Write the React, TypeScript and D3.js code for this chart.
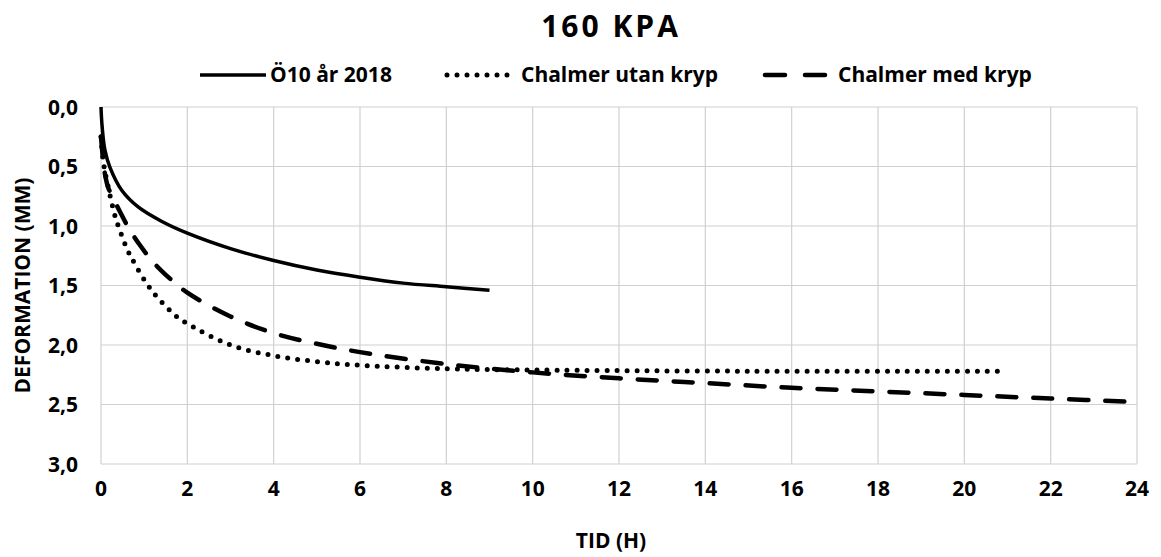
import React from "react";
import * as d3 from "d3";

const title = "160 KPA";
const xLabel = "TID (H)";
const yLabel = "DEFORMATION (MM)";
const xTicks = [0, 2, 4, 6, 8, 10, 12, 14, 16, 18, 20, 22, 24];
const yTicks = [0, 0.5, 1, 1.5, 2, 2.5, 3];

const seriesNames = ["Ö10 år 2018", "Chalmer utan kryp", "Chalmer med kryp"];

// Ö10 år 2018 (measured)
const o10T = [0, 0.01, 0.03, 0.09, 0.21, 0.48, 0.86, 1.4, 2, 3, 4, 5, 6, 7, 8, 9];
const o10V = [0, 0.08, 0.18, 0.36, 0.51, 0.7, 0.84, 0.96, 1.06, 1.19, 1.29, 1.37, 1.43, 1.48, 1.51, 1.54];

// Chalmer utan kryp
const utanT = [0, 0.05, 0.13, 0.32, 0.4, 0.6, 0.71, 1.17, 1.75, 2, 3, 4, 5, 6, 8, 10, 15, 20.9];
const utanV = [0.25, 0.45, 0.61, 0.91, 1.0, 1.19, 1.27, 1.54, 1.76, 1.82, 2.0, 2.09, 2.14, 2.17, 2.2, 2.21, 2.22, 2.22];

// Chalmer med kryp
const medT = [0, 0.05, 0.1, 0.17, 0.44, 0.63, 0.9, 1.2, 1.5, 2, 3, 4, 5, 6, 8, 10, 12, 14, 16, 18, 20, 22, 24];
const medV = [0.25, 0.45, 0.58, 0.68, 0.88, 1.01, 1.16, 1.3, 1.41, 1.56, 1.76, 1.9, 1.99, 2.06, 2.16, 2.23, 2.28, 2.32, 2.36, 2.39, 2.42, 2.45, 2.48];

const FONT = "'Open Sans', 'DejaVu Sans', sans-serif";

export default function App() {
  const W = 1161, H = 557;
  const left = 101, right = 1137, top = 107, bottom = 464;
  const x = d3.scaleLinear().domain([0, 24]).range([left, right]);
  const y = d3.scaleLinear().domain([0, 3]).range([top, bottom]);

  const line = d3
    .line<[number, number]>()
    .x((d) => x(d[0]))
    .y((d) => y(d[1]))
    .curve(d3.curveCatmullRom.alpha(0.5));

  const zip = (t: number[], v: number[]) => t.map((tt, i) => [tt, v[i]] as [number, number]);

  const series = [
    { name: seriesNames[0], data: zip(o10T, o10V), width: 3.5, dash: undefined as string | undefined, cap: "butt" },
    { name: seriesNames[1], data: zip(utanT, utanV), width: 5, dash: "0 10", cap: "round" },
    { name: seriesNames[2], data: zip(medT, medV), width: 4.5, dash: "19 17", cap: "round" },
  ];

  const legendItems = [
    { lineX: 200, textX: 270, s: series[0] },
    { lineX: 447, textX: 521, s: series[1] },
    { lineX: 765, textX: 838, s: series[2] },
  ];

  return (
    <svg
      width={W}
      height={H}
      style={{ position: "absolute", left: 0, top: 0, background: "#fff" }}
      fontFamily={FONT}
    >
      <rect x={0} y={0} width={W} height={H} fill="#fff" />
      {/* grid */}
      {yTicks.map((t) => (
        <line key={"gy" + t} x1={left} x2={right} y1={y(t)} y2={y(t)} stroke="#d0d0d0" strokeWidth={1.2} />
      ))}
      {xTicks.map((t) => (
        <line key={"gx" + t} x1={x(t)} x2={x(t)} y1={top} y2={bottom} stroke="#d0d0d0" strokeWidth={1.2} />
      ))}
      {/* y tick labels */}
      {yTicks.map((t) => (
        <text
          key={"ly" + t}
          x={78}
          y={y(t)}
          dy="0.36em"
          textAnchor="end"
          fontSize={21}
          fontWeight="bold"
          fill="#000"
        >
          {d3.format(".1f")(t).replace(".", ",")}
        </text>
      ))}
      {/* x tick labels */}
      {xTicks.map((t) => (
        <text key={"lx" + t} x={x(t)} y={496} textAnchor="middle" fontSize={21} fontWeight="bold" fill="#000">
          {t}
        </text>
      ))}
      {/* series */}
      {series.map((s) => (
        <path
          key={s.name}
          d={line(s.data) || ""}
          fill="none"
          stroke="#000"
          strokeWidth={s.width}
          strokeDasharray={s.dash}
          strokeLinecap={s.cap as any}
          strokeLinejoin="round"
        />
      ))}
      {/* title */}
      <text x={611} y={37} textAnchor="middle" fontSize={30} fontWeight="bold" letterSpacing={3} fill="#000">
        {title}
      </text>
      {/* legend */}
      {legendItems.map((li) => (
        <g key={li.s.name}>
          <line
            x1={li.lineX}
            x2={li.lineX + 66}
            y1={75}
            y2={75}
            stroke="#000"
            strokeWidth={li.s.width}
            strokeDasharray={li.s.name === seriesNames[2] ? "20 20" : li.s.dash}
            strokeLinecap={li.s.cap as any}
          />
          <text x={li.textX} y={82} fontSize={21} fontWeight="bold" fill="#000">
            {li.s.name}
          </text>
        </g>
      ))}
      {/* axis titles */}
      <text x={611} y={548} textAnchor="middle" fontSize={21} fontWeight="bold" fill="#000">
        {xLabel}
      </text>
      <text
        transform={`translate(30, ${(top + bottom) / 2}) rotate(-90)`}
        textAnchor="middle"
        fontSize={21}
        fontWeight="bold"
        fill="#000"
      >
        {yLabel}
      </text>
    </svg>
  );
}
